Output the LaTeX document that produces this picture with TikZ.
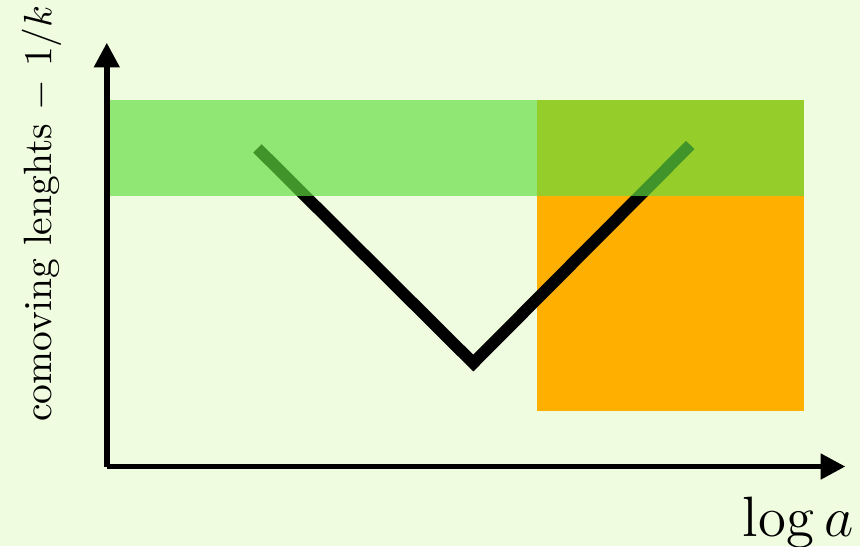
\documentclass[tikz,border=0pt]{standalone}
\usepackage{amsmath}
\usepackage{tikz}
\usetikzlibrary{arrows.meta,positioning}
\definecolor{bgcolor}{RGB}{240,252,224}
\definecolor{horizoncolor}{RGB}{97,222,63}
\definecolor{latecolor}{RGB}{255,175,0}

\begin{document}
\begin{tikzpicture}[
 axis/.style={-{Triangle[length=2.2mm,width=2.2mm]},line width=1.4pt},
 mode/.style={line width=3pt,black},
 band/.style={fill=horizoncolor,fill opacity=0.67},
 label/.style={inner sep=0pt}]
 \useasboundingbox[fill=bgcolor] (-0.95,-0.71) rectangle (6.70,4.15);
 \coordinate (origin) at (0,0);
 \coordinate (ytip) at (0,3.77);
 \coordinate (xtip) at (6.57,0);
 % regions
 \fill[latecolor] (3.83,0.49) rectangle (6.20,3.26);
 \coordinate (enter) at (1.34,2.83);
 \coordinate (bottom) at (3.26,0.92);
 \coordinate (leave) at (5.19,2.86);
 \draw[mode] (enter) -- (bottom) -- (leave);
 \fill[band] (0,2.41) rectangle (6.20,3.26);
 % axes
 \draw[axis] (origin) -- (ytip);
 \draw[axis] (origin) -- (xtip);
 \node[label,rotate=90] (ylab) at (-0.58,2.25) {comoving lenghts $-\ 1/k$};
 \node[label,anchor=base east,font=\Large] (xlab) at (6.65,-0.62) {$\log a$};
\end{tikzpicture}
\end{document}
